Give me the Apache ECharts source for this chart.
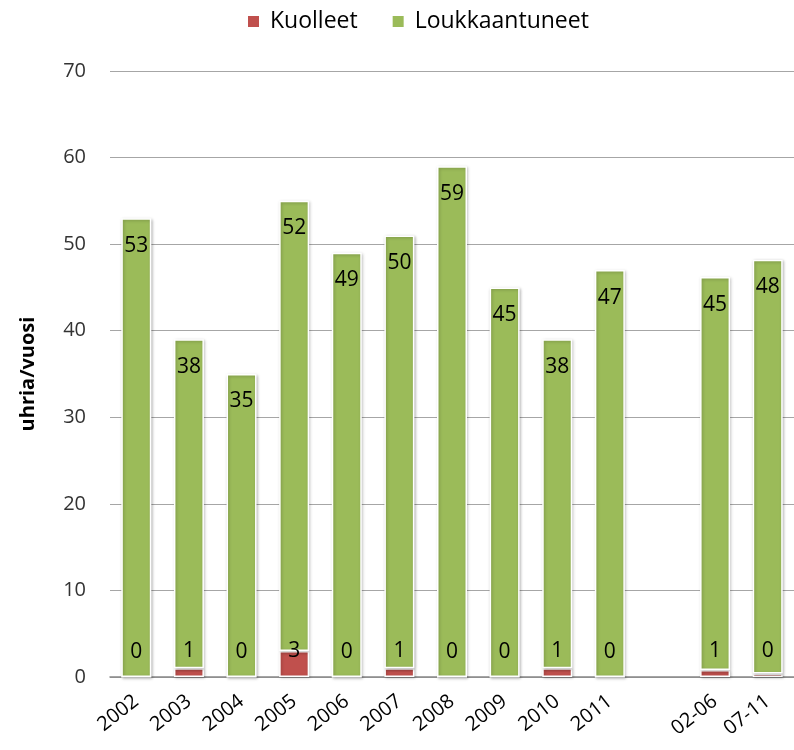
<!DOCTYPE html>
<html>
<head>
<meta charset="utf-8">
<script src="https://cdn.jsdelivr.net/npm/echarts@6/dist/echarts.min.js"></script>
<style>html,body{margin:0;padding:0;background:#fff}#c{width:794px;height:750px}</style>
</head>
<body>
<div id="c"></div>
<script>
const categories = ['2002','2003','2004','2005','2006','2007','2008','2009','2010','2011','','02-06','07-11'];
const kuolleet = [0,1,0,3,0,1,0,0,1,0,'-',0.8,0.4];
const loukkaantuneet = [53,38,35,52,49,50,59,45,38,47,'-',45.4,47.8];
const yTicks = [0,10,20,30,40,50,60,70];

const font = '"Open Sans", Lato, sans-serif';
const chart = echarts.init(document.getElementById('c'));
const barStyle = (c) => ({color: c, borderColor: '#fff', borderWidth: 1.5, shadowBlur: 3, shadowColor: 'rgba(0,0,0,0.25)', shadowOffsetX: 1, shadowOffsetY: 1});
chart.setOption({
  animation: false,
  legend: {
    top: 5, left: 241, itemWidth: 13, itemHeight: 13, itemGap: 33,
    icon: 'rect',
    textStyle: {fontFamily: font, fontSize: 23, color: '#000', padding: [0,0,0,5]},
    data: ['Kuolleet','Loukkaantuneet']
  },
  grid: {left: 110, top: 71, width: 690, height: 606},
  xAxis: {
    type: 'category', data: categories,
    axisLine: {lineStyle: {color: '#888', width: 1.5}},
    axisTick: {show: false},
    axisLabel: {rotate: 38, fontFamily: font, fontSize: 20, color: '#000', margin: 22}
  },
  yAxis: {
    type: 'value', min: 0, max: 70, interval: 10,
    name: 'uhria/vuosi', nameLocation: 'middle', nameGap: 72,
    nameTextStyle: {fontFamily: font, fontSize: 20, fontWeight: 'bold', color: '#000'},
    axisLine: {show: false}, axisTick: {show: false},
    splitLine: {lineStyle: {color: '#a6a6a6', width: 1}},
    axisLabel: {fontFamily: font, fontSize: 20, color: '#333', margin: 24,
      formatter: (v) => yTicks.includes(v) ? String(v) : ''}
  },
  series: [
    {
      name: 'Kuolleet', type: 'bar', stack: 's', barWidth: 30,
      itemStyle: barStyle('#C0504D'),
      data: kuolleet,
      label: {show: true, position: 'insideBottom', distance: 15,
        fontFamily: font, fontSize: 21, color: '#000',
        formatter: (p) => String(Math.round(p.value))}
    },
    {
      name: 'Loukkaantuneet', type: 'bar', stack: 's', barWidth: 30,
      itemStyle: barStyle('#9BBB59'),
      data: loukkaantuneet,
      label: {show: true, position: 'insideTop', distance: 17,
        fontFamily: font, fontSize: 21, color: '#000',
        formatter: (p) => String(Math.round(p.value))}
    }
  ]
});
</script>
</body>
</html>
